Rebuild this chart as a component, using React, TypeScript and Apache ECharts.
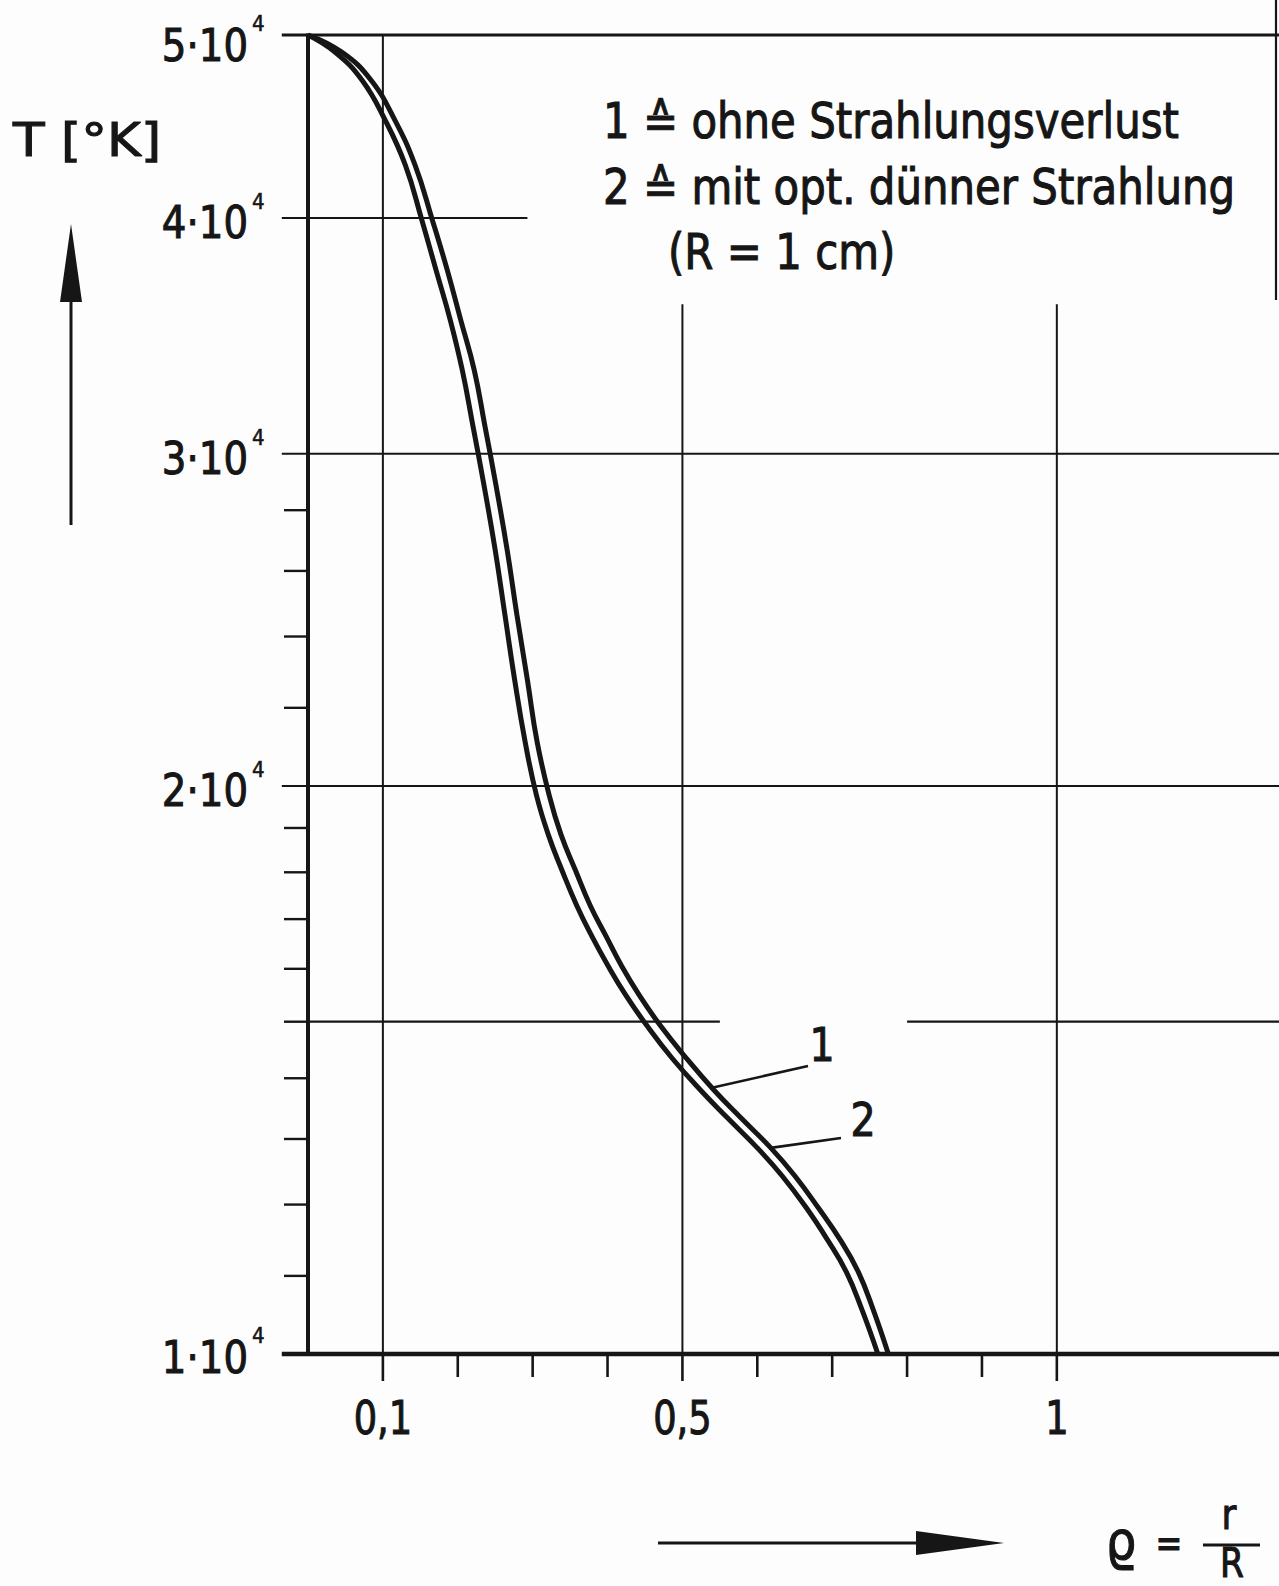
import React, { useEffect, useRef } from "react";
import * as echarts from "echarts";

// Radial temperature profile T(ρ), ρ = r/R.
// Both curves are read at the same temperature levels.
const tempLevels = [50000, 48970, 47330, 45070, 42660, 39900, 37530, 35310, 33220, 31070, 28870, 26670, 24640, 22760, 21100, 19780, 18840, 18050, 17280, 16650, 16050, 15480, 14920, 14350, 13800, 13340, 12860, 12430, 11960, 11490, 11050, 10550, 10000];

// Curve 1: ohne Strahlungsverlust
const rho1 = [0, 0.045, 0.084, 0.116, 0.143, 0.166, 0.186, 0.204, 0.222, 0.236, 0.251, 0.266, 0.279, 0.293, 0.306, 0.322, 0.338, 0.357, 0.377, 0.398, 0.419, 0.443, 0.471, 0.505, 0.542, 0.578, 0.618, 0.65, 0.681, 0.711, 0.735, 0.755, 0.775];

// Curve 2: mit optisch dünner Strahlung (R = 1 cm)
const rho2 = [0, 0.036, 0.072, 0.103, 0.13, 0.152, 0.171, 0.19, 0.206, 0.22, 0.235, 0.25, 0.263, 0.276, 0.29, 0.305, 0.321, 0.339, 0.359, 0.379, 0.401, 0.425, 0.453, 0.486, 0.524, 0.56, 0.6, 0.633, 0.665, 0.694, 0.719, 0.74, 0.761];

// Axis ticks and labels
const xTickValues = [0.1, 0.2, 0.3, 0.4, 0.5, 0.6, 0.7, 0.8, 0.9, 1.0];
const xLabelValues = [0.1, 0.5, 1];
const xLabelTexts = ["0,1", "0,5", "1"];
const yLabelValues = [50000, 40000, 30000, 20000, 10000];
const yLabelTexts = ["5·10", "4·10", "3·10", "2·10", "1·10"];
const yExponent = "4";
const yMinorTicks = [28000, 26000, 24000, 22000, 19000, 18000, 17000, 16000, 15000, 14000, 13000, 12000, 11000];

const legendLines = ["1 ≙ ohne Strahlungsverlust", "2 ≙ mit opt. dünner Strahlung", "(R = 1 cm)"];
const curveTags = ["1", "2"];

const FONT = '"DejaVu Sans", "Noto Sans", sans-serif';
const INK = "#161616";

export default function App() {
  const ref = useRef<HTMLDivElement | null>(null);

  useEffect(() => {
    if (!ref.current) return;
    const chart = echarts.init(ref.current, null, { renderer: "svg" });

    const lineSeries = (xs: number[]) => ({
      type: "line",
      data: xs.map((x, i) => [x, tempLevels[i]]),
      smooth: 0.45,
      symbol: "none",
      showSymbol: false,
      silent: true,
      z: 3,
      lineStyle: { color: INK, width: 5 },
    });

    chart.setOption({
      animation: false,
      backgroundColor: "#fdfdfd",
      grid: { left: 308, top: 35, width: 966, height: 1319 },
      xAxis: {
        type: "value",
        min: 0,
        max: 1.29,
        axisLine: { show: false },
        axisTick: { show: false },
        axisLabel: { show: false },
        splitLine: { show: false },
      },
      yAxis: {
        type: "log",
        logBase: 10,
        min: 10000,
        max: 50000,
        axisLine: { show: false },
        axisTick: { show: false },
        axisLabel: { show: false },
        splitLine: { show: false },
      },
      series: [lineSeries(rho1), lineSeries(rho2)],
    });

    const P = (x: number, t: number) => chart.convertToPixel({ gridIndex: 0 }, [x, t]) as number[];
    const els: any[] = [];

    const seg = (x1: number, y1: number, x2: number, y2: number, w: number) =>
      els.push({
        type: "line",
        silent: true,
        z: 1,
        shape: { x1, y1, x2, y2 },
        style: { stroke: INK, lineWidth: w, lineCap: "butt" },
      });

    const txt = (text: string, x: number, y: number, size: number, align = "left", sx = 0.86, bold = 1.1) =>
      els.push({
        type: "text",
        x,
        y,
        scaleX: sx,
        silent: true,
        z: 5,
        style: {
          text,
          fontSize: size,
          fontFamily: FONT,
          fill: INK,
          stroke: INK,
          lineWidth: bold,
          align,
          verticalAlign: "middle",
        },
      });

    // horizontal rules (value, from ρ, to ρ, width)
    const hRules: [number, number, number, number][] = [
      [50000, -0.035, 1.3, 3],
      [40000, -0.035, 0.293, 2],
      [30000, -0.035, 1.3, 2],
      [20000, -0.035, 1.3, 2],
      [15000, 0, 0.55, 2.2],
      [15000, 0.8, 1.3, 2.2],
      [10000, -0.035, 1.3, 4.5],
    ];
    hRules.forEach(([t, a, b, w]) => {
      const p1 = P(a, t);
      const p2 = P(b, t);
      seg(p1[0], p1[1], p2[0], p2[1], w);
    });

    // vertical rules (ρ, from T, to T, width)
    const vRules: [number, number, number, number][] = [
      [0, 10000, 50000, 4],
      [0.1, 10000, 50000, 2],
      [0.5, 10000, 36000, 2],
      [1, 10000, 36000, 2],
    ];
    vRules.forEach(([x, a, b, w]) => {
      const p1 = P(x, a);
      const p2 = P(x, b);
      seg(p1[0], p1[1] + (x === 0 ? 2 : 0), p2[0], p2[1] - (x === 0 ? 1.5 : 0), w);
    });

    // sheet edge at the upper right
    seg(1276, 0, 1276, 300, 2.2);

    // x ticks below the axis
    const base = P(0, 10000);
    xTickValues.forEach((v) => {
      const p = P(v, 10000);
      const major = xLabelValues.some((m) => Math.abs(m - v) < 1e-9);
      seg(p[0], base[1], p[0], base[1] + (major ? 27 : 23), 2.6);
    });
    xLabelValues.forEach((v, i) => {
      const p = P(v, 10000);
      txt(xLabelTexts[i], p[0], base[1] + 64, 46, "center", 0.8);
    });

    // y minor ticks left of the axis
    yMinorTicks.forEach((t) => {
      const p = P(0, t);
      seg(p[0] - 24, p[1], p[0], p[1], 2.4);
    });

    // y labels  n·10⁴
    yLabelValues.forEach((t, i) => {
      const p = P(0, t);
      const cy = p[1] + (i === 0 ? 10 : i === yLabelValues.length - 1 ? 3 : 5);
      txt(yLabelTexts[i], 248, cy, 45, "right", 0.86);
      txt(yExponent, 252, cy - 21, 22, "left", 0.9, 0.6);
    });

    // ordinate caption and arrow
    txt("T [°K]", 13, 140, 47, "left", 1.1);
    seg(71, 525, 71, 292, 3);
    els.push({
      type: "polygon",
      silent: true,
      z: 2,
      shape: { points: [[71, 224], [60, 302], [82, 302]] },
      style: { fill: INK },
    });

    // abscissa caption and arrow
    seg(658, 1543, 920, 1543, 3);
    els.push({
      type: "polygon",
      silent: true,
      z: 2,
      shape: { points: [[1004, 1543], [916, 1531], [916, 1555]] },
      style: { fill: INK },
    });
    txt("ϱ", 1121, 1540, 54, "center", 0.9);
    txt("=", 1169, 1543, 40, "center", 0.8);
    txt("r", 1229, 1515, 42, "center", 0.86);
    seg(1203, 1545, 1260, 1545, 3);
    txt("R", 1232, 1563, 40, "center", 0.86);

    // legend
    txt(legendLines[0], 603, 121, 49, "left", 0.855);
    txt(legendLines[1], 603, 187, 49, "left", 0.855);
    txt(legendLines[2], 668, 252, 49, "left", 0.855);

    // curve tags with leaders to curve 1
    const a1 = P(rho1[24], tempLevels[24]);
    const a2 = P(rho1[26], tempLevels[26]);
    seg(a1[0] - 3, a1[1] - 2, 808, 1066, 2.6);
    seg(a2[0], a2[1], 841, 1138, 2.6);
    txt(curveTags[0], 822, 1045, 46, "center", 0.86);
    txt(curveTags[1], 863, 1120, 46, "center", 0.86);

    chart.setOption({ graphic: { elements: els } });

    return () => chart.dispose();
  }, []);

  return (
    <div
      ref={ref}
      style={{ position: "absolute", left: 0, top: 0, width: 1279, height: 1586, background: "#fdfdfd" }}
    />
  );
}
